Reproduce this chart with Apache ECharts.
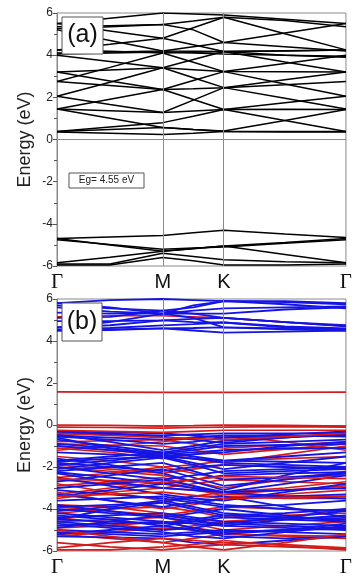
<!DOCTYPE html>
<html><head><meta charset="utf-8">
<script src="https://cdn.jsdelivr.net/npm/echarts@6/dist/echarts.min.js"></script>
<style>html,body{margin:0;padding:0;background:#fff}#c{width:355px;height:579px}</style>
</head><body><div id="c"></div>
<script>
// k-path: Γ - M - K - Γ (path length units)
const kTicks = [0, 0.577, 0.911, 1.577];
const kLabels = ['Γ', 'M', 'K', 'Γ'];
// sampling points: Γ, mid ΓM, M, mid MK, K, mid KΓ, Γ
const kGrid = [0, 0.289, 0.577, 0.744, 0.911, 1.244, 1.577];
const energyTicks = [-6, -4, -2, 0, 2, 4, 6];

// Panel (a): bands (eV)
const bandsA = [
  [0.35, 0.30, 0.24, 0.30, 0.38, 0.38, 0.38],
  [0.38, 0.48, 0.57, 0.47, 0.38, 0.36, 0.35],
  [0.38, 0.59, 0.80, 1.10, 1.42, 1.74, 2.05],
  [1.45, 1.01, 0.57, 0.48, 0.40, 0.90, 1.42],
  [1.45, 1.36, 1.28, 1.35, 1.42, 0.90, 0.38],
  [1.45, 1.91, 2.37, 1.90, 1.42, 1.43, 1.42],
  [2.05, 1.66, 1.28, 1.87, 2.46, 1.96, 1.45],
  [2.05, 2.72, 3.40, 2.93, 2.46, 2.83, 3.20],
  [2.75, 2.56, 2.37, 2.41, 2.46, 2.60, 2.75],
  [2.75, 3.42, 4.10, 3.66, 3.22, 2.63, 2.05],
  [3.20, 2.78, 2.37, 2.80, 3.22, 3.60, 4.00],
  [3.20, 3.30, 3.40, 3.31, 3.22, 3.21, 3.20],
  [4.00, 3.70, 3.40, 3.79, 4.17, 3.68, 3.20],
  [4.10, 4.15, 4.20, 4.40, 4.60, 5.05, 5.50],
  [4.25, 4.18, 4.10, 4.14, 4.17, 4.21, 4.25],
  [4.25, 4.52, 4.80, 4.49, 4.17, 4.00, 3.90],
  [5.20, 4.70, 4.20, 4.19, 4.17, 4.20, 4.25],
  [5.35, 5.40, 5.45, 5.62, 5.80, 5.02, 4.25],
  [5.50, 5.75, 6.00, 5.95, 5.90, 5.70, 5.50],
  [5.50, 5.15, 4.80, 5.30, 5.80, 5.65, 5.35],
  [4.05, 4.10, 4.15, 4.10, 4.05, 4.00, 3.95],
  [5.25, 5.35, 5.45, 5.20, 4.60, 4.40, 4.20],
  [-4.70, -4.62, -4.55, -4.42, -4.30, -4.48, -4.65],
  [-4.70, -5.00, -5.30, -5.17, -5.05, -4.88, -4.70],
  [-4.75, -4.98, -5.20, -5.15, -5.10, -4.92, -4.75],
  [-5.85, -5.58, -5.30, -5.18, -5.05, -5.45, -5.85],
  [-5.90, -5.90, -5.40, -5.55, -5.70, -5.80, -5.85],
  [-5.95, -5.95, -5.60, -5.75, -5.95, -5.95, -5.90]
];

// Panel (b): spin-up (red) bands
const bandsBRed = [
  [5.15, 5.20, 5.20, 5.15, 5.10, 4.90, 4.70],
  [-0.80, -0.75, -0.70, -0.90, -1.10, -0.95, -0.80],
  [-0.90, -0.95, -1.00, -1.20, -1.40, -1.15, -0.90],
  [-1.00, -1.20, -1.45, -1.60, -1.80, -1.40, -1.00],
  [-1.10, -1.30, -1.60, -1.40, -1.20, -1.15, -1.10],
  [-1.20, -1.00, -0.80, -0.60, -0.50, -0.80, -1.20],
  [-1.90, -2.10, -2.30, -2.10, -1.90, -2.00, -2.10],
  [-2.50, -2.30, -2.00, -2.30, -2.60, -2.50, -2.40],
  [-2.60, -2.80, -3.00, -2.80, -2.60, -2.70, -2.80],
  [-2.90, -2.70, -2.50, -2.90, -3.30, -3.10, -2.90],
  [-3.30, -3.00, -2.70, -3.00, -3.40, -3.50, -3.50],
  [-3.50, -3.20, -3.00, -3.10, -3.30, -3.40, -3.40],
  [-3.20, -3.60, -4.00, -3.80, -3.50, -3.30, -3.10],
  [-3.90, -4.10, -4.30, -4.10, -3.90, -4.00, -4.10],
  [-4.20, -4.00, -3.90, -4.10, -4.40, -4.30, -4.20],
  [-4.40, -4.70, -5.00, -4.80, -4.60, -4.50, -4.40],
  [-4.60, -4.50, -4.40, -4.70, -5.00, -4.80, -4.60],
  [-4.90, -4.80, -4.60, -4.90, -5.10, -5.00, -4.90],
  [-5.30, -5.10, -4.90, -5.00, -5.20, -5.25, -5.30],
  [-5.20, -5.40, -5.60, -5.40, -5.20, -5.30, -5.40],
  [-1.50, -1.70, -2.00, -1.90, -1.70, -1.60, -1.50],
  [-2.00, -2.20, -2.40, -2.70, -3.00, -2.60, -2.20],
  [-3.80, -3.90, -4.20, -4.50, -4.60, -4.40, -4.00],
  [-2.80, -3.20, -3.60, -3.40, -3.20, -3.00, -2.70]
];
// red bands drawn above the blue ones (top of valence band and deep edges)
const bandsBRedTop = [
  [1.58, 1.57, 1.55, 1.55, 1.55, 1.56, 1.57],
  [0.00, -0.02, -0.05, -0.03, 0.00, -0.02, -0.05],
  [-0.10, -0.12, -0.15, -0.12, -0.10, -0.08, -0.10],
  [-0.25, -0.30, -0.35, -0.30, -0.25, -0.25, -0.25],
  [-0.40, -0.50, -0.60, -0.65, -0.70, -0.55, -0.40],
  [-5.85, -5.60, -5.40, -5.50, -5.60, -5.70, -5.85],
  [-5.60, -5.80, -5.95, -5.80, -5.70, -5.80, -5.90],
  [-5.95, -5.95, -5.80, -5.70, -5.50, -5.75, -5.95],
  [-5.00, -5.30, -5.60, -5.80, -5.95, -5.60, -5.20],
  [-3.40, -3.30, -3.20, -3.35, -3.50, -3.45, -3.40],
  [-2.55, -2.65, -2.75, -2.60, -2.45, -2.50, -2.55]
];

// Panel (b): spin-down (blue) bands
const bandsBBlue = [
  [5.80, 5.95, 6.00, 5.95, 5.90, 5.90, 5.80],
  [5.70, 5.55, 5.45, 5.60, 5.90, 5.85, 5.75],
  [5.60, 5.40, 5.30, 5.45, 5.55, 5.60, 5.65],
  [5.35, 5.30, 5.30, 5.30, 5.30, 5.50, 5.60],
  [5.10, 5.15, 5.45, 5.30, 5.10, 4.90, 4.75],
  [4.95, 4.95, 4.98, 5.05, 5.10, 4.90, 4.70],
  [4.65, 4.75, 4.98, 4.90, 4.88, 4.70, 4.60],
  [4.55, 4.62, 4.74, 4.80, 4.88, 4.65, 4.55],
  [4.50, 4.55, 4.60, 4.62, 4.65, 4.55, 4.50],
  [4.50, 4.52, 4.60, 4.50, 4.40, 4.45, 4.50],
  [5.80, 5.60, 5.30, 5.10, 4.65, 4.60, 4.55],
  [4.65, 4.90, 5.30, 5.70, 5.90, 5.75, 5.55],
  [-0.40, -0.45, -0.50, -0.45, -0.40, -0.40, -0.40],
  [-0.35, -0.40, -0.55, -0.70, -0.85, -0.60, -0.35],
  [-0.50, -0.60, -0.70, -0.60, -0.50, -0.50, -0.55],
  [-0.55, -0.70, -0.90, -0.80, -0.60, -0.55, -0.50],
  [-0.45, -0.80, -1.20, -1.00, -0.75, -0.60, -0.45],
  [-0.70, -1.00, -1.30, -1.10, -0.90, -0.80, -0.70],
  [-0.60, -1.10, -1.50, -1.40, -1.30, -1.00, -0.80],
  [-0.90, -1.10, -1.35, -1.20, -1.00, -0.95, -0.90],
  [-1.30, -1.40, -1.50, -1.60, -1.70, -1.50, -1.30],
  [-1.70, -1.50, -1.30, -1.50, -1.70, -1.75, -1.80],
  [-1.75, -1.60, -1.50, -1.80, -2.10, -1.80, -1.50],
  [-1.80, -2.00, -2.20, -2.00, -1.90, -2.00, -2.10],
  [-1.90, -1.70, -1.45, -1.60, -1.80, -1.90, -2.00],
  [-2.00, -2.30, -2.60, -2.40, -2.20, -2.10, -2.00],
  [-2.10, -1.80, -1.55, -1.90, -2.30, -2.20, -2.10],
  [-2.20, -2.00, -1.80, -2.20, -2.60, -2.50, -2.30],
  [-2.25, -2.50, -2.80, -2.60, -2.40, -2.30, -2.25],
  [-2.30, -2.70, -3.00, -3.10, -3.20, -2.80, -2.40],
  [-2.50, -2.90, -3.30, -3.50, -3.60, -3.20, -2.80],
  [-3.00, -2.80, -2.60, -2.90, -3.20, -3.10, -3.00],
  [-3.10, -3.30, -3.50, -3.70, -3.90, -3.80, -3.60],
  [-3.30, -3.60, -3.90, -3.70, -3.50, -3.40, -3.30],
  [-3.60, -3.50, -3.40, -3.60, -3.80, -4.00, -4.10],
  [-3.80, -4.10, -4.40, -4.60, -4.70, -4.40, -4.10],
  [-3.90, -3.80, -3.70, -4.00, -4.30, -4.20, -4.00],
  [-4.00, -4.20, -4.40, -4.20, -4.00, -4.30, -4.60],
  [-4.10, -3.90, -3.60, -3.90, -4.20, -4.40, -4.50],
  [-4.20, -4.40, -4.60, -4.70, -4.80, -4.50, -4.30],
  [-4.30, -4.50, -4.80, -4.60, -4.40, -4.50, -4.60],
  [-4.40, -4.30, -4.20, -4.40, -4.60, -4.70, -4.80],
  [-4.50, -4.60, -4.70, -4.50, -4.30, -4.40, -4.50],
  [-4.60, -4.80, -5.00, -4.90, -4.70, -4.80, -4.90],
  [-4.70, -4.90, -5.10, -5.30, -5.40, -5.10, -4.80],
  [-4.80, -4.70, -4.60, -4.90, -5.20, -5.00, -4.70],
  [-4.90, -4.60, -4.30, -4.50, -4.80, -4.90, -5.00],
  [-5.00, -5.10, -5.20, -5.10, -5.00, -5.10, -5.20],
  [-5.10, -5.20, -5.30, -5.20, -5.10, -5.00, -4.95],
  [-5.20, -5.00, -4.80, -5.00, -5.30, -5.40, -5.30],
  [-5.30, -5.35, -5.40, -5.60, -5.70, -5.50, -5.30],
  [-0.30, -0.35, -0.40, -0.50, -0.60, -0.45, -0.30],
  [-1.00, -1.20, -1.40, -1.30, -1.20, -1.10, -1.10],
  [-2.70, -2.40, -2.10, -2.50, -2.90, -2.60, -2.30],
  [-3.40, -3.10, -2.80, -3.00, -3.20, -3.40, -3.50],
  [-4.50, -4.00, -3.70, -3.40, -3.40, -3.90, -4.40],
  [-1.60, -1.90, -2.30, -2.70, -3.10, -2.40, -1.80]
];

const chart = echarts.init(document.getElementById('c'), null, {renderer: 'canvas'});
const axisGray = '#8a8a8a';

function xAx(idx) {
  return {
    type: 'value', gridIndex: idx, min: 0, max: kTicks[3],
    axisLine: {show: true, lineStyle: {color: axisGray}},
    axisTick: {show: false},
    splitLine: {show: false},
    axisLabel: {
      customValues: kTicks, margin: 6, color: '#111',
      formatter: function (v) {
        let best = 0;
        kTicks.forEach((t, i) => { if (Math.abs(t - v) < Math.abs(kTicks[best] - v)) best = i; });
        const s = kLabels[best];
        return s === 'Γ' ? '{g|Γ}' : '{s|' + s + '}';
      },
      rich: {
        g: {fontFamily: 'Liberation Serif', fontSize: 21, color: '#111'},
        s: {fontFamily: 'Liberation Sans', fontSize: 20, color: '#111'}
      }
    }
  };
}
function yAx(idx) {
  return {
    type: 'value', gridIndex: idx, min: -6, max: 6, interval: 2,
    name: 'Energy (eV)', nameLocation: 'middle', nameGap: 23, nameMoveOverlap: false,
    nameTextStyle: {fontFamily: 'Liberation Sans', fontSize: 18, color: '#222'},
    axisLine: {show: true, lineStyle: {color: axisGray}},
    axisTick: {show: true, length: 4, lineStyle: {color: '#555'}},
    minorTick: {show: true, splitNumber: 2, length: 3, lineStyle: {color: '#555'}},
    splitLine: {show: false},
    axisLabel: {fontFamily: 'Liberation Sans', fontSize: 12, color: '#222', margin: 4}
  };
}

const series = [];
function addBands(bands, color, idx, z, w) {
  bands.forEach(b => {
    series.push({
      type: 'line', xAxisIndex: idx, yAxisIndex: idx, silent: true, animation: false,
      symbol: 'none', z: z,
      data: kGrid.map((k, i) => [k, b[i]]),
      lineStyle: {color: color, width: w}
    });
  });
}
[0, 1].forEach(idx => {
  series.push({
    type: 'line', xAxisIndex: idx, yAxisIndex: idx, data: [], silent: true, z: 1,
    markLine: {
      silent: true, symbol: 'none', animation: false, label: {show: false},
      lineStyle: {color: '#8a8a8a', width: 1, type: 'solid'},
      data: [{xAxis: kTicks[1]}, {xAxis: kTicks[2]}]
    }
  });
});
addBands(bandsA, '#000000', 0, 2, 1.5);
addBands(bandsBRed, '#d41a1a', 1, 2, 1.6);
addBands(bandsBBlue, '#1414e6', 1, 3, 1.8);
addBands(bandsBRedTop, '#d41a1a', 1, 4, 1.7);

chart.setOption({
  animation: false,
  backgroundColor: '#fff',
  grid: [
    {left: 57, top: 13, width: 298, height: 253, show: true, borderColor: axisGray, borderWidth: 1},
    {left: 57, top: 299, width: 298, height: 252, show: true, borderColor: axisGray, borderWidth: 1}
  ],
  xAxis: [xAx(0), xAx(1)],
  yAxis: [yAx(0), yAx(1)],
  series: series,
  graphic: [
    {type: 'rect', shape: {x: 62, y: 17, width: 41, height: 37}, style: {fill: '#fff', stroke: '#555', lineWidth: 1}, z: 100},
    {type: 'text', x: 82.5, y: 35.5, style: {text: '(a)', font: '25px "Liberation Sans"', fill: '#111', align: 'center', verticalAlign: 'middle'}, z: 101},
    {type: 'rect', shape: {x: 69, y: 173, width: 75, height: 15}, style: {fill: '#fff', stroke: '#555', lineWidth: 1}, z: 100},
    {type: 'text', x: 106.5, y: 180.5, style: {text: 'Eg= 4.55 eV', font: '10px "Liberation Sans"', fill: '#222', align: 'center', verticalAlign: 'middle'}, z: 101},
    {type: 'rect', shape: {x: 62, y: 303, width: 40, height: 38}, style: {fill: '#fff', stroke: '#555', lineWidth: 1}, z: 100},
    {type: 'text', x: 82, y: 322, style: {text: '(b)', font: '25px "Liberation Sans"', fill: '#111', align: 'center', verticalAlign: 'middle'}, z: 101}
  ]
});
</script></body></html>
